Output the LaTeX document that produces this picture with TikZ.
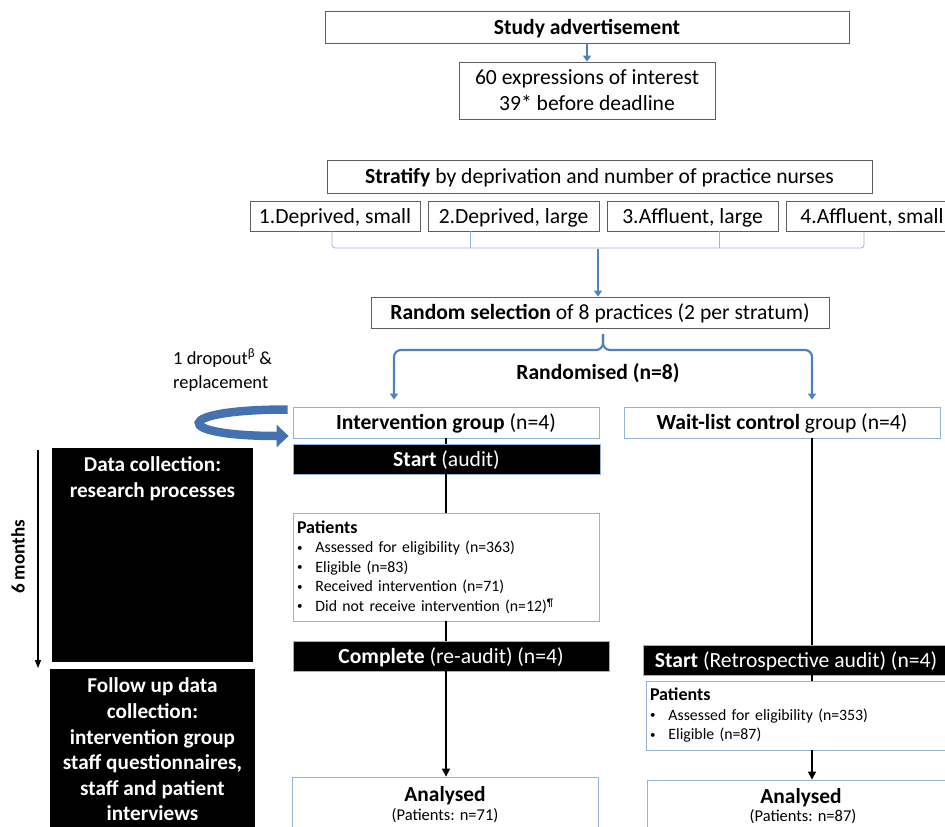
\documentclass[tikz,border=0pt]{standalone}
\usepackage{fontspec}
\setmainfont{Carlito}
\usetikzlibrary{arrows.meta,calc}
\definecolor{boxgray}{RGB}{95,95,95}
\definecolor{lblue}{RGB}{149,179,215}
\definecolor{arrblue}{RGB}{79,129,189}
\definecolor{darrblue}{RGB}{68,114,176}
\newcommand{\fsz}[2]{\fontsize{#1}{#2}\selectfont}
\newcommand{\bul}{{\fsz{11}{0}\raisebox{1.5pt}{\textbullet}}\hspace{13pt}}
\begin{document}
\begin{tikzpicture}[x=1pt,y=-1pt,
  every node/.style={font=\fsz{21.6}{26}, inner sep=0pt},
  oneline/.style={text height=17.5pt, text depth=3pt},
  graybox/.style={draw=boxgray, line width=0.8pt, fill=white},
  bluebox/.style={draw=lblue, line width=0.8pt, fill=white},
  blackbox/.style={draw=lblue, line width=0.8pt, fill=black, text=white, oneline},
  solidblack/.style={fill=black},
  barline/.style={draw=lblue, line width=0.7pt},
  bluearrow/.style={draw=arrblue, line width=2.2pt, -{Triangle[length=6pt,width=8pt]}},
  flow/.style={draw=black, line width=1.6pt},
  flowarrow/.style={flow, -{Triangle[length=8pt,width=8pt]}},
  bullets/.style={align=left, font=\fsz{15.8}{19.5}},
]
\useasboundingbox (0,0) rectangle (945,827);
\clip (0,0) rectangle (945,827);

% top part
\node[graybox, oneline, minimum width=524pt, minimum height=32pt, font=\bfseries\fsz{21.6}{26}] (adv) at (587,27) {Study advertisement};
\node[graybox, minimum width=256pt, minimum height=57pt, align=center, font=\fsz{21.6}{26}] (expr) at (587,90.5) {60 expressions of interest\\39* before deadline};
\draw[bluearrow] (adv.south) -- (expr.north);

\node[graybox, oneline, minimum width=545pt, minimum height=33pt] (strat) at (599.5,176.5) {\textbf{Stratify} by deprivation and number of practice nurses};
\node[graybox, oneline, minimum width=170pt, minimum height=30pt] (s1) at (335,216) {1.Deprived, small};
\node[graybox, oneline, minimum width=171pt, minimum height=30pt] (s2) at (513.5,216) {2.Deprived, large};
\node[graybox, oneline, minimum width=171pt, minimum height=30pt] (s3) at (692.5,216) {3.Affluent, large};
\node[graybox, oneline, minimum width=171pt, minimum height=30pt] (s4) at (872,216) {4.Affluent, small};

\coordinate (b1) at (332,248);
\coordinate (b2) at (470,248);
\coordinate (b3) at (719,248);
\coordinate (b4) at (864,248);
\draw[barline, rounded corners=3pt] (b1 |- s1.south) -- (b1) -- (b4) -- (b4 |- s4.south);
\draw[barline] (b2 |- s2.south) -- (b2);
\draw[barline] (b3 |- s3.south) -- (b3);

\node[graybox, oneline, minimum width=458pt, minimum height=31pt] (rsel) at (600,312.5) {\textbf{Random selection} of 8 practices (2 per stratum)};
\coordinate (bm) at (598,248.5);
\draw[bluearrow, line width=2.6pt] (bm) -- (bm |- rsel.north);

% groups
\node[bluebox, oneline, minimum width=306pt, minimum height=31pt] (iv) at (446,422.5) {\textbf{Intervention group} (n=4)};
\node[bluebox, oneline, minimum width=316pt, minimum height=31pt] (wl) at (782,422.5) {\textbf{Wait-list control} group (n=4)};

\coordinate (notch) at (603,334);
\coordinate (bl) at (394,350);
\coordinate (br) at (812,350);
\draw[bluearrow, rounded corners=7pt, shorten >=7pt] (notch) -- (notch |- bl) -- (bl) -- (bl |- iv.north);
\draw[bluearrow, rounded corners=7pt, shorten >=7pt] (notch) -- (notch |- br) -- (br) -- (br |- wl.north);
\node[oneline, font=\bfseries\fsz{21.6}{26}] (rlab) at (598,372) {Randomised (n=8)};

% dropout
\node[anchor=west, align=left, font=\fsz{18.5}{24}] (drop) at (173,370) {1 dropout\textsuperscript{β} \&\\replacement};
\draw[draw=darrblue, line width=8.5pt, -{Triangle[length=12pt,width=22pt]}] ($(iv.west)+(-5,-13)$) .. controls (171,409.5) and (171,436) .. ($(iv.west)+(-4,13.5)$);

% intervention column
\node[blackbox, minimum width=307pt, minimum height=30pt] (st1) at (446.5,459) {\textbf{Start} (audit)};
\draw[flow] (iv.south) -- (st1.north -| iv.south);

\node[bluebox, minimum width=306pt, minimum height=108pt, text width=298pt, bullets] (pat1) at (446,567) {{\fsz{18}{19.5}\bfseries Patients}\\
\bul Assessed for eligibility (n=363)\\
\bul Eligible (n=83)\\
\bul Received intervention (n=71)\\
\bul Did not receive intervention (n=12)\textsuperscript{¶}};
\draw[flow] (st1.south -| iv.south) -- (pat1.north -| iv.south);

\node[blackbox, minimum width=316pt, minimum height=30pt] (cp) at (451,656) {\textbf{Complete} (re-audit) (n=4)};
\draw[flow] (pat1.south -| iv.south) -- (cp.north -| iv.south);

\node[bluebox, minimum width=306pt, minimum height=66pt] (an1) at (445,810) {};
\node[font=\bfseries\fsz{21.4}{24}] (an1a) at (445,796) {Analysed};
\node[font=\fsz{16.5}{18}] (an1b) at (445,815.5) {(Patients: n=71)};
\draw[flowarrow] (cp.south -| iv.south) -- (an1.north -| iv.south);

% wait-list column
\coordinate (rx) at (812,0);
\node[blackbox, minimum width=306pt, minimum height=30pt] (st2) at (796,660) {\textbf{Start} (Retrospective audit) (n=4)};
\draw[flow] (wl.south -| rx) -- (st2.north -| rx);

\node[bluebox, minimum width=304pt, minimum height=69pt, text width=296pt, bullets] (pat2) at (798,715.5) {{\fsz{18}{19.5}\bfseries Patients}\\
\bul Assessed for eligibility (n=353)\\
\bul Eligible (n=87)};
\draw[flow] (st2.south -| rx) -- (pat2.north -| rx);

\node[bluebox, minimum width=303pt, minimum height=66pt] (an2) at (798.5,813) {};
\node[font=\bfseries\fsz{21.4}{24}] (an2a) at (801,798) {Analysed};
\node[font=\fsz{16.5}{18}] (an2b) at (803,817) {(Patients: n=87)};
\draw[flowarrow] (pat2.south -| rx) -- (an2.north -| rx);

% left timeline
\node[font=\bfseries\fsz{19}{22}, rotate=90] (six) at (18,557) {6 months};
\coordinate (ta) at (38,450);
\coordinate (tb) at (38,668);
\draw[line width=1.2pt, -{Triangle[length=8pt,width=6pt]}] (ta) -- (tb);

\node[solidblack, minimum width=201pt, minimum height=214pt] (dc) at (152.5,555) {};
\node[anchor=north, align=center, text=white, font=\bfseries\fsz{21.2}{26}] (dct) at ([yshift=-9pt]dc.north) {Data collection:\\research processes};

\node[solidblack, minimum width=205pt, minimum height=175pt] (fu) at (152.5,756.5) {};
\node[anchor=north, align=center, text=white, font=\bfseries\fsz{21.2}{25.6}] (fut) at ([yshift=-9pt]fu.north) {Follow up data\\collection:\\intervention group\\staff questionnaires,\\staff and patient\\interviews};
\end{tikzpicture}
\end{document}
